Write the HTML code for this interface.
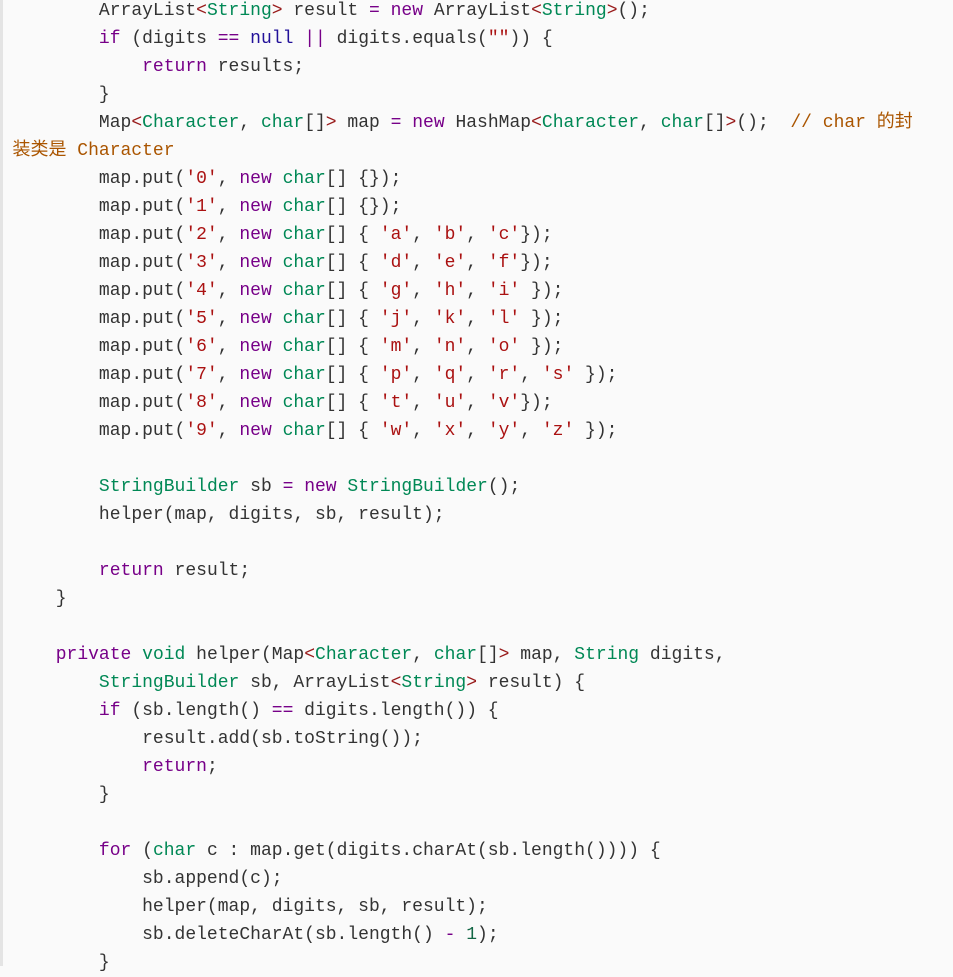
<!DOCTYPE html>
<html><head><meta charset="utf-8"><style>
html,body{margin:0;padding:0;background:#fafafa;width:953px;height:966px;overflow:hidden}
.wrap{position:absolute;left:0;top:0;width:953px;height:966px;background:#fafafa;border-left:3px solid #e4e4e4;box-sizing:border-box}
pre{margin:0;position:absolute;left:9.5px;top:-3px;font-family:"Liberation Mono","Noto Sans CJK SC",monospace;font-size:18px;line-height:28px;color:#333;white-space:pre}
.k{color:#708}.t{color:#085}.s{color:#a11}.c{color:#a50}.a{color:#219}.b{color:#981a1a}.o{color:#708}.n{color:#164}
</style></head><body><div class="wrap"><pre>        ArrayList<span class="b">&lt;</span><span class="t">String</span><span class="b">&gt;</span> result <span class="o">=</span> <span class="k">new</span> ArrayList<span class="b">&lt;</span><span class="t">String</span><span class="b">&gt;</span>();
        <span class="k">if</span> (digits <span class="o">==</span> <span class="a">null</span> <span class="o">||</span> digits.equals(<span class="s">""</span>)) {
            <span class="k">return</span> results;
        }
        Map<span class="b">&lt;</span><span class="t">Character</span>, <span class="t">char</span>[]<span class="b">&gt;</span> map <span class="o">=</span> <span class="k">new</span> HashMap<span class="b">&lt;</span><span class="t">Character</span>, <span class="t">char</span>[]<span class="b">&gt;</span>();  <span class="c">// char 的封</span>
<span class="c">装类是 Character</span>
        map.put(<span class="s">'0'</span>, <span class="k">new</span> <span class="t">char</span>[] {});
        map.put(<span class="s">'1'</span>, <span class="k">new</span> <span class="t">char</span>[] {});
        map.put(<span class="s">'2'</span>, <span class="k">new</span> <span class="t">char</span>[] { <span class="s">'a'</span>, <span class="s">'b'</span>, <span class="s">'c'</span>});
        map.put(<span class="s">'3'</span>, <span class="k">new</span> <span class="t">char</span>[] { <span class="s">'d'</span>, <span class="s">'e'</span>, <span class="s">'f'</span>});
        map.put(<span class="s">'4'</span>, <span class="k">new</span> <span class="t">char</span>[] { <span class="s">'g'</span>, <span class="s">'h'</span>, <span class="s">'i'</span> });
        map.put(<span class="s">'5'</span>, <span class="k">new</span> <span class="t">char</span>[] { <span class="s">'j'</span>, <span class="s">'k'</span>, <span class="s">'l'</span> });
        map.put(<span class="s">'6'</span>, <span class="k">new</span> <span class="t">char</span>[] { <span class="s">'m'</span>, <span class="s">'n'</span>, <span class="s">'o'</span> });
        map.put(<span class="s">'7'</span>, <span class="k">new</span> <span class="t">char</span>[] { <span class="s">'p'</span>, <span class="s">'q'</span>, <span class="s">'r'</span>, <span class="s">'s'</span> });
        map.put(<span class="s">'8'</span>, <span class="k">new</span> <span class="t">char</span>[] { <span class="s">'t'</span>, <span class="s">'u'</span>, <span class="s">'v'</span>});
        map.put(<span class="s">'9'</span>, <span class="k">new</span> <span class="t">char</span>[] { <span class="s">'w'</span>, <span class="s">'x'</span>, <span class="s">'y'</span>, <span class="s">'z'</span> });

        <span class="t">StringBuilder</span> sb <span class="o">=</span> <span class="k">new</span> <span class="t">StringBuilder</span>();
        helper(map, digits, sb, result);

        <span class="k">return</span> result;
    }

    <span class="k">private</span> <span class="t">void</span> helper(Map<span class="b">&lt;</span><span class="t">Character</span>, <span class="t">char</span>[]<span class="b">&gt;</span> map, <span class="t">String</span> digits,
        <span class="t">StringBuilder</span> sb, ArrayList<span class="b">&lt;</span><span class="t">String</span><span class="b">&gt;</span> result) {
        <span class="k">if</span> (sb.length() <span class="o">==</span> digits.length()) {
            result.add(sb.toString());
            <span class="k">return</span>;
        }

        <span class="k">for</span> (<span class="t">char</span> c : map.get(digits.charAt(sb.length()))) {
            sb.append(c);
            helper(map, digits, sb, result);
            sb.deleteCharAt(sb.length() <span class="o">-</span> <span class="n">1</span>);
        }
</pre></div></body></html>
